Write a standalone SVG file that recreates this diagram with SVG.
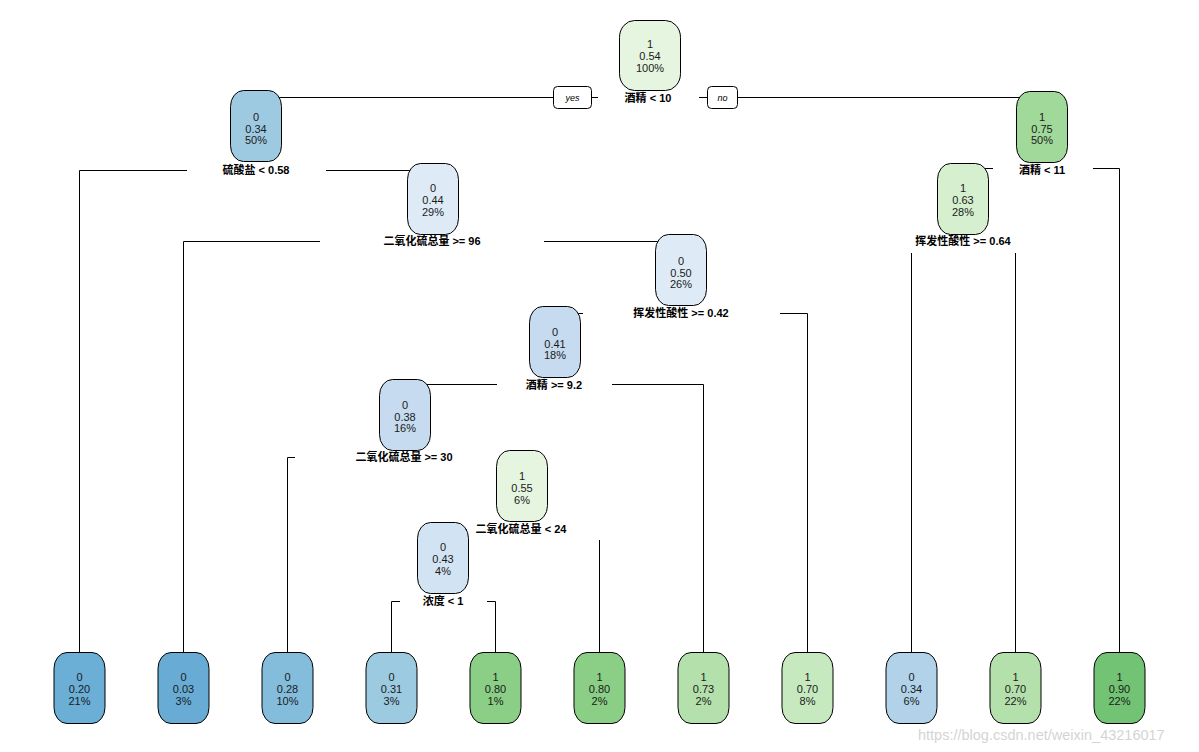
<svg xmlns="http://www.w3.org/2000/svg" width="1199" height="752" viewBox="0 0 1199 752">
<style>
.bg{fill:#ffffff}
.edge{fill:none;stroke:#000;stroke-width:1}
.box{stroke:#000;stroke-width:1}
.t{font-family:"Liberation Sans",Arial,sans-serif;font-size:11px;fill:#1a1a1a;text-anchor:middle}
.lab{font-family:"Liberation Sans","Noto Sans CJK SC",sans-serif;font-size:11px;font-weight:bold;fill:#000;text-anchor:middle}
.yn{font-family:"Liberation Sans",Arial,sans-serif;font-size:9px;font-style:italic;fill:#000;text-anchor:middle}
.ynbox{fill:#fff;stroke:#000;stroke-width:1}
.wm{font-family:"Liberation Sans",Arial,sans-serif;font-size:14.5px;fill:#d4d4d4}
</style>
<rect class="bg" x="0" y="0" width="1199" height="752"/>
<g id="connectors">
<path class="edge" d="M598,97.5 H256 V90"/>
<path class="edge" d="M699,97.5 H1042 V91"/>
<path class="edge" d="M187,170.5 H79.5 V652"/>
<path class="edge" d="M326,170.5 H433 V163"/>
<path class="edge" d="M993,168.5 H963 V163"/>
<path class="edge" d="M1093,168.5 H1119.5 V652"/>
<path class="edge" d="M320,241.5 H183.5 V652"/>
<path class="edge" d="M544,241.5 H681 V234"/>
<path class="edge" d="M911.5,253 V652"/>
<path class="edge" d="M1015.5,253 V652"/>
<path class="edge" d="M583,313.5 H555 V306"/>
<path class="edge" d="M780,313.5 H807.5 V652"/>
<path class="edge" d="M497,384.5 H405 V379"/>
<path class="edge" d="M612,384.5 H703.5 V652"/>
<path class="edge" d="M295,457.5 H287.5 V652"/>
<path class="edge" d="M500,457.5 H522 V450"/>
<path class="edge" d="M467,529.5 H443 V522"/>
<path class="edge" d="M599.5,540 V652"/>
<path class="edge" d="M400,601.5 H391.5 V652"/>
<path class="edge" d="M487,601.5 H495.5 V652"/>
<rect class="ynbox" x="553.5" y="86.5" width="38" height="22" rx="4"/>
<text class="yn" x="572.5" y="101">yes</text>
<rect class="ynbox" x="707.5" y="86.5" width="30" height="22" rx="4"/>
<text class="yn" x="722.5" y="101">no</text>
</g>
<g id="n1">
<rect class="box" x="619.5" y="20.5" width="61" height="70" rx="15" ry="17" fill="#e5f5e0"/>
<text class="t" x="650" y="48">1</text><text class="t" x="650" y="60">0.54</text><text class="t" x="650" y="72">100%</text>
<text class="lab" x="648" y="102">酒精 &lt; 10</text>
</g>
<g id="n2">
<rect class="box" x="230.5" y="90.5" width="51" height="71" rx="13" ry="16" fill="#9ecae1"/>
<text class="t" x="256" y="121">0</text><text class="t" x="256" y="132.5">0.34</text><text class="t" x="256" y="144">50%</text>
<text class="lab" x="256" y="174">硫酸盐 &lt; 0.58</text>
</g>
<g id="n3">
<rect class="box" x="1016.5" y="91.5" width="51" height="71" rx="13" ry="16" fill="#a1d99b"/>
<text class="t" x="1042" y="121">1</text><text class="t" x="1042" y="132.5">0.75</text><text class="t" x="1042" y="144">50%</text>
<text class="lab" x="1042" y="174">酒精 &lt; 11</text>
</g>
<g id="n4">
<rect class="box" x="407.5" y="163.5" width="51" height="71" rx="13" ry="16" fill="#deebf7"/>
<text class="t" x="433" y="192">0</text><text class="t" x="433" y="204">0.44</text><text class="t" x="433" y="216">29%</text>
<text class="lab" x="432" y="245">二氧化硫总量 &gt;= 96</text>
</g>
<g id="n5">
<rect class="box" x="937.5" y="163.5" width="51" height="71" rx="13" ry="16" fill="#d5efcf"/>
<text class="t" x="963" y="192">1</text><text class="t" x="963" y="204">0.63</text><text class="t" x="963" y="216">28%</text>
<text class="lab" x="963" y="245">挥发性酸性 &gt;= 0.64</text>
</g>
<g id="n6">
<rect class="box" x="655.5" y="234.5" width="51" height="71" rx="13" ry="16" fill="#deebf7"/>
<text class="t" x="681" y="265">0</text><text class="t" x="681" y="276.5">0.50</text><text class="t" x="681" y="288">26%</text>
<text class="lab" x="681" y="317">挥发性酸性 &gt;= 0.42</text>
</g>
<g id="n7">
<rect class="box" x="529.5" y="306.5" width="51" height="71" rx="13" ry="16" fill="#c6dbef"/>
<text class="t" x="555" y="336">0</text><text class="t" x="555" y="347.5">0.41</text><text class="t" x="555" y="359">18%</text>
<text class="lab" x="554" y="389">酒精 &gt;= 9.2</text>
</g>
<g id="n8">
<rect class="box" x="379.5" y="379.5" width="51" height="71" rx="13" ry="16" fill="#c6dbef"/>
<text class="t" x="405" y="409">0</text><text class="t" x="405" y="420.5">0.38</text><text class="t" x="405" y="432">16%</text>
<text class="lab" x="404" y="461">二氧化硫总量 &gt;= 30</text>
</g>
<g id="n9">
<rect class="box" x="496.5" y="450.5" width="51" height="71" rx="13" ry="16" fill="#e5f5e0"/>
<text class="t" x="522" y="480">1</text><text class="t" x="522" y="492">0.55</text><text class="t" x="522" y="504">6%</text>
<text class="lab" x="521" y="533">二氧化硫总量 &lt; 24</text>
</g>
<g id="n10">
<rect class="box" x="417.5" y="522.5" width="51" height="71" rx="13" ry="16" fill="#d2e3f3"/>
<text class="t" x="443" y="551">0</text><text class="t" x="443" y="563">0.43</text><text class="t" x="443" y="575">4%</text>
<text class="lab" x="443" y="605">浓度 &lt; 1</text>
</g>
<g id="leaf1">
<rect class="box" x="54" y="652.5" width="51" height="71" rx="13" ry="16" fill="#6baed6"/>
<text class="t" x="79.5" y="681">0</text><text class="t" x="79.5" y="693">0.20</text><text class="t" x="79.5" y="705">21%</text>
</g>
<g id="leaf2">
<rect class="box" x="158" y="652.5" width="51" height="71" rx="13" ry="16" fill="#68acd5"/>
<text class="t" x="183.5" y="681">0</text><text class="t" x="183.5" y="693">0.03</text><text class="t" x="183.5" y="705">3%</text>
</g>
<g id="leaf3">
<rect class="box" x="262" y="652.5" width="51" height="71" rx="13" ry="16" fill="#84bcdc"/>
<text class="t" x="287.5" y="681">0</text><text class="t" x="287.5" y="693">0.28</text><text class="t" x="287.5" y="705">10%</text>
</g>
<g id="leaf4">
<rect class="box" x="366" y="652.5" width="51" height="71" rx="13" ry="16" fill="#9ccae1"/>
<text class="t" x="391.5" y="681">0</text><text class="t" x="391.5" y="693">0.31</text><text class="t" x="391.5" y="705">3%</text>
</g>
<g id="leaf5">
<rect class="box" x="470" y="652.5" width="51" height="71" rx="13" ry="16" fill="#8bce86"/>
<text class="t" x="495.5" y="681">1</text><text class="t" x="495.5" y="693">0.80</text><text class="t" x="495.5" y="705">1%</text>
</g>
<g id="leaf6">
<rect class="box" x="574" y="652.5" width="51" height="71" rx="13" ry="16" fill="#8bce86"/>
<text class="t" x="599.5" y="681">1</text><text class="t" x="599.5" y="693">0.80</text><text class="t" x="599.5" y="705">2%</text>
</g>
<g id="leaf7">
<rect class="box" x="678" y="652.5" width="51" height="71" rx="13" ry="16" fill="#b4e0ac"/>
<text class="t" x="703.5" y="681">1</text><text class="t" x="703.5" y="693">0.73</text><text class="t" x="703.5" y="705">2%</text>
</g>
<g id="leaf8">
<rect class="box" x="782" y="652.5" width="51" height="71" rx="13" ry="16" fill="#c7e9c0"/>
<text class="t" x="807.5" y="681">1</text><text class="t" x="807.5" y="693">0.70</text><text class="t" x="807.5" y="705">8%</text>
</g>
<g id="leaf9">
<rect class="box" x="886" y="652.5" width="51" height="71" rx="13" ry="16" fill="#b1d2e8"/>
<text class="t" x="911.5" y="681">0</text><text class="t" x="911.5" y="693">0.34</text><text class="t" x="911.5" y="705">6%</text>
</g>
<g id="leaf10">
<rect class="box" x="990" y="652.5" width="51" height="71" rx="13" ry="16" fill="#b4e0ac"/>
<text class="t" x="1015.5" y="681">1</text><text class="t" x="1015.5" y="693">0.70</text><text class="t" x="1015.5" y="705">22%</text>
</g>
<g id="leaf11">
<rect class="box" x="1094" y="652.5" width="51" height="71" rx="13" ry="16" fill="#73c375"/>
<text class="t" x="1119.5" y="681">1</text><text class="t" x="1119.5" y="693">0.90</text><text class="t" x="1119.5" y="705">22%</text>
</g>
<text class="wm" x="918" y="740">https://blog.csdn.net/weixin_43216017</text>
</svg>
